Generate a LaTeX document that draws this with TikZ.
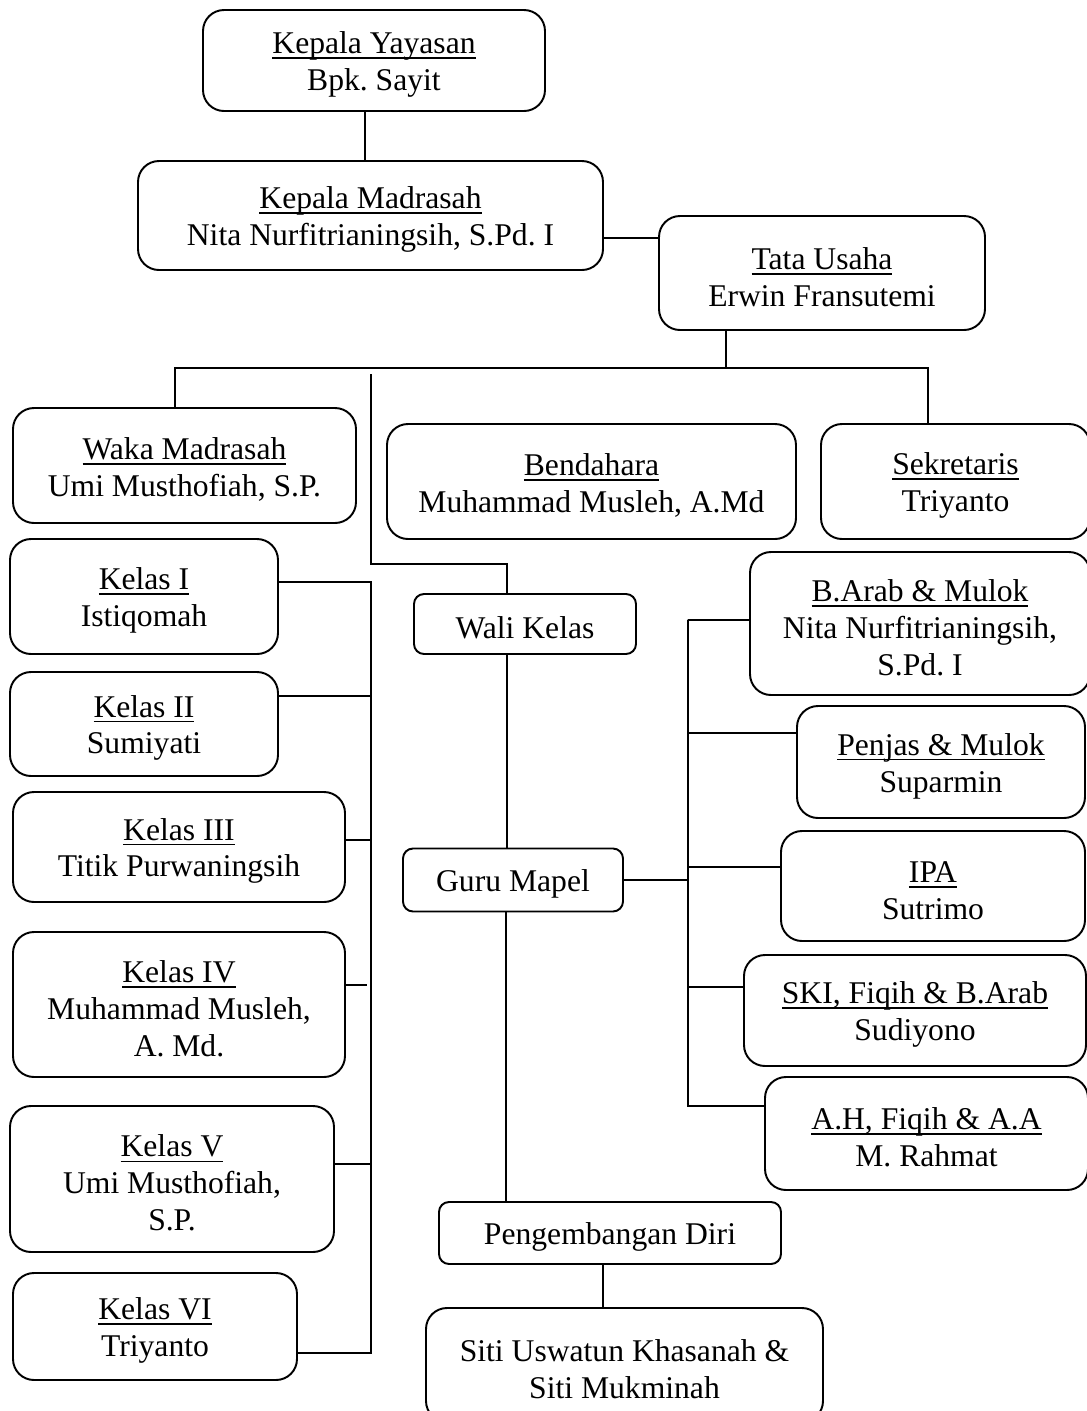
\documentclass[tikz,border=0pt]{standalone}
\usepackage{fontspec}
\setmainfont{Liberation Serif}
\frenchspacing
\newcommand{\jabatan}[1]{\leavevmode\rule{0pt}{17pt}\setbox0\hbox{#1}\rlap{\rule[-3pt]{\wd0}{0.9pt}}\box0}

\begin{document}
\begin{tikzpicture}[x=0.02cm, y=-0.02cm, line width=1.1pt,
    unit/.style={draw, rounded corners=0.42cm, align=center, inner sep=2pt,
      font=\fontsize{18}{21}\selectfont, execute at begin node={\rule{0pt}{17pt}}},
    sub/.style={unit, rounded corners=0.2cm},
    boxsize/.style 2 args={minimum width=#1*0.02cm, minimum height=#2*0.02cm}]
    \useasboundingbox (0,0) rectangle (1087,1411);

    \node[unit, boxsize={342}{101}] (ky) at (374,60.5) {\jabatan{Kepala Yayasan}\\Bpk. Sayit};
    \node[unit, boxsize={465}{109}] (km) at (370.5,215.5) {\jabatan{Kepala Madrasah}\\Nita Nurfitrianingsih, S.Pd. I};
    \node[unit, boxsize={326}{114}] (tu) at (822,273) {\jabatan{Tata Usaha}\\Erwin Fransutemi};

    \node[unit, boxsize={343}{115}] (waka) at (184.5,465.5) {\jabatan{Waka Madrasah}\\Umi Musthofiah, S.P.};
    \node[unit, boxsize={409}{115}] (bend) at (591.5,481.5) {\jabatan{Bendahara}\\Muhammad Musleh, A.Md};
    \node[unit, boxsize={269}{115}] (sekr) at (955.5,481.5) {\jabatan{Sekretaris}\\Triyanto};

    \node[unit, boxsize={268}{115}] (k1) at (144,596.5) {\jabatan{Kelas I}\\Istiqomah};
    \node[unit, boxsize={268}{104}] (k2) at (144,724) {\jabatan{Kelas II}\\Sumiyati};
    \node[unit, boxsize={332}{110}] (k3) at (179,847) {\jabatan{Kelas III}\\Titik Purwaningsih};
    \node[unit, boxsize={332}{145}] (k4) at (179,1004.5) {\jabatan{Kelas IV}\\Muhammad Musleh,\\A. Md.};
    \node[unit, boxsize={324}{146}] (k5) at (172,1179) {\jabatan{Kelas V}\\Umi Musthofiah,\\S.P.};
    \node[unit, boxsize={284}{107}] (k6) at (155,1326.5) {\jabatan{Kelas VI}\\Triyanto};

    \node[sub, boxsize={222}{60}] (wali) at (525,624) {Wali Kelas};
    \node[sub, boxsize={220}{63}] (guru) at (513,880) {Guru Mapel};
    \node[sub, boxsize={342}{62}] (peng) at (610,1233) {Pengembangan Diri};
    \node[unit, boxsize={397}{114}] (siti) at (624.5,1365) {\rule{0pt}{17pt}Siti Uswatun Khasanah \&\\Siti Mukminah};

    \node[unit, boxsize={340}{143}] (barab) at (920,623.5) {\jabatan{B.Arab \& Mulok}\\Nita Nurfitrianingsih,\\S.Pd. I};
    \node[unit, boxsize={288}{112}] (penjas) at (941,762) {\jabatan{Penjas \& Mulok}\\Suparmin};
    \node[unit, boxsize={304}{110}] (ipa) at (933,886) {\jabatan{IPA}\\Sutrimo};
    \node[unit, boxsize={342}{111}] (ski) at (915,1010.5) {\jabatan{SKI, Fiqih \& B.Arab}\\Sudiyono};
    \node[unit, boxsize={323}{113}] (ah) at (926.5,1133.5) {\jabatan{A.H, Fiqih \& A.A}\\M. Rahmat};

    \coordinate (bus) at (726,368);
    \coordinate (wk) at (371,374);
    \coordinate (wkturn) at (507,564);
    \coordinate (kbus) at (371,584);
    \coordinate (mb) at (688,620);

    \draw ([xshift=-0.11cm]km.north) -- ([xshift=-0.11cm]km.north |- ky.south);
    \draw ([yshift=-0.45cm]km.east) -- ([yshift=-0.45cm]km.east -| tu.west);
    \draw ([xshift=-1.92cm]tu.south) -- (bus);
    \draw ([xshift=-0.19cm]waka.north) |- (bus) -| ([xshift=-0.55cm]sekr.north);

    \draw (wk) |- (wkturn) -- ([xshift=-0.36cm]wali.north);
    \draw ([xshift=-0.36cm]wali.south) -- ([xshift=-0.36cm]wali.south |- guru.north);
    \draw ([xshift=-0.14cm]guru.south) -- ([xshift=-0.14cm]guru.south |- peng.north);
    \draw ([xshift=-0.14cm]peng.south) -- ([xshift=-0.14cm]peng.south |- siti.north);

    \draw ([yshift=0.29cm]k1.east) -| (kbus);
    \draw ([yshift=0.56cm]k2.east) -| (kbus);
    \draw ([yshift=0.14cm]k3.east) -| (kbus);
    \draw ([yshift=0.39cm]k4.east) -- ++(21,0);
    \draw ([yshift=0.3cm]k5.east) -| (kbus);
    \draw ([yshift=-0.53cm]k6.east) -| (kbus);

    \draw (guru.east) -| (mb);
    \draw ([yshift=0.07cm]barab.west) -| (mb);
    \draw ([yshift=0.58cm]penjas.west) -| (mb);
    \draw ([yshift=0.38cm]ipa.west) -| (mb);
    \draw ([yshift=0.47cm]ski.west) -| (mb);
    \draw ([yshift=0.55cm]ah.west) -| (mb);
\end{tikzpicture}
\end{document}
